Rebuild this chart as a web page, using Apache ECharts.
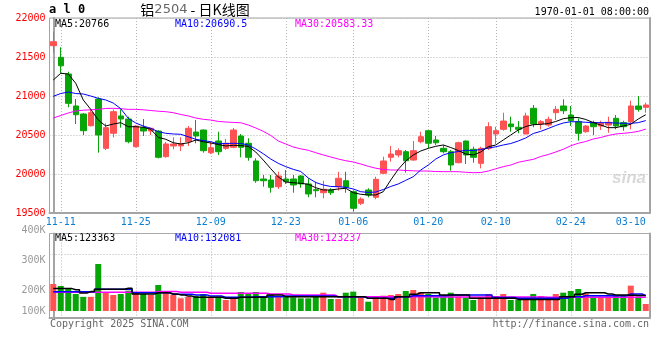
<!DOCTYPE html>
<html><head><meta charset="utf-8">
<script src="https://cdn.jsdelivr.net/npm/echarts@6/dist/echarts.min.js"></script>
<style>html,body{margin:0;padding:0;background:#fff}#c{width:660px;height:360px}</style>
</head><body><div id="c"></div>
<script>
const dates = ['11-08','11-11','11-12','11-13','11-14','11-15','11-18','11-19','11-20','11-21','11-22','11-25','11-26','11-27','11-28','11-29','12-02','12-03','12-04','12-05','12-06','12-09','12-10','12-11','12-12','12-13','12-16','12-17','12-18','12-19','12-20','12-23','12-24','12-25','12-26','12-27','12-30','12-31','01-02','01-03','01-06','01-07','01-08','01-09','01-10','01-13','01-14','01-15','01-16','01-17','01-20','01-21','01-22','01-23','01-24','01-27','02-05','02-06','02-07','02-10','02-11','02-12','02-13','02-14','02-17','02-18','02-19','02-20','02-21','02-24','02-25','02-26','02-27','02-28','03-03','03-04','03-05','03-06','03-07','03-10'];
const tickDates = ['11-11','11-25','12-09','12-23','01-06','01-20','02-10','02-24','03-10'];

const opens = [21645,21496,21282,20872,20769,20619,20961,20329,20522,20744,
20705,20350,20594,20551,20551,20222,20359,20360,20414,20538,
20564,20273,20423,20329,20342,20487,20394,20167,19936,19923,
19837,19936,19936,19974,19872,19799,19760,19795,19837,19914,
19773,19624,19795,19701,20009,20214,20244,20286,20179,20414,
20555,20436,20329,20286,20145,20423,20317,20137,20329,20513,
20573,20641,20599,20513,20842,20641,20628,20786,20872,20756,
20671,20542,20658,20615,20628,20714,20658,20671,20872,20855];
const closes = [21696,21388,20906,20760,20555,20786,20500,20594,20799,20705,
20414,20615,20551,20586,20214,20385,20385,20385,20586,20487,
20299,20337,20286,20394,20564,20342,20214,19914,19914,19829,
19974,19901,19859,19872,19744,19786,19804,19760,19945,19829,
19560,19679,19731,19932,20167,20256,20299,20170,20299,20478,
20394,20401,20286,20115,20401,20244,20214,20329,20606,20555,
20679,20606,20573,20744,20641,20671,20701,20829,20811,20683,
20522,20615,20606,20650,20663,20615,20606,20872,20829,20885];
const lows = [21555,21291,20855,20641,20500,20610,20273,20308,20470,20594,
20394,20340,20487,20500,20200,20210,20317,20295,20359,20394,
20273,20256,20244,20310,20330,20214,20170,19888,19837,19760,
19808,19872,19760,19824,19701,19701,19688,19731,19786,19760,
19517,19603,19701,19676,20000,20158,20214,20017,20170,20394,
20329,20372,20265,20042,20137,20128,20145,20073,20308,20385,
20555,20542,20522,20510,20599,20573,20606,20692,20769,20615,
20427,20529,20500,20564,20529,20573,20555,20573,20799,20786];
const highs = [21824,21624,21311,20961,20780,20829,20983,20650,20829,20829,
20735,20625,20705,20595,20560,20410,20470,20470,20615,20692,
20570,20414,20542,20450,20590,20513,20458,20201,19987,19987,
20029,20051,19987,19987,19945,19901,19914,19817,20029,20029,
19790,19701,19817,19965,20222,20359,20329,20308,20423,20542,
20560,20487,20372,20308,20414,20430,20350,20350,20663,20606,
20786,20735,20679,20786,20885,20692,20735,20872,20958,20872,
20714,20628,20683,20683,20735,20756,20683,20940,21000,20914];

const ma5 = [21205,21291,21282,21163,20949,20829,20692,20615,20641,20658,
20606,20606,20599,20573,20470,20445,20401,20385,20400,20436,
20414,20397,20378,20359,20368,20365,20353,20282,20179,20068,
19962,19897,19888,19881,19868,19824,19795,19795,19808,19817,
19760,19740,19731,19731,19773,19923,20060,20167,20244,20295,
20329,20355,20372,20340,20301,20256,20244,20282,20350,20372,
20436,20500,20564,20609,20632,20637,20647,20673,20709,20722,
20724,20699,20660,20628,20594,20594,20615,20637,20705,20760];
const ma10 = [20996,21032,21051,21032,21026,21000,20970,20949,20910,20837,
20714,20654,20615,20586,20542,20522,20513,20509,20478,20445,
20429,20414,20388,20391,20394,20391,20372,20321,20260,20192,
20137,20094,20060,20032,19949,19891,19859,19840,19837,19829,
19808,19773,19764,19769,19801,19840,19872,19919,19965,20051,
20115,20192,20244,20273,20288,20305,20301,20314,20333,20349,
20372,20391,20423,20462,20519,20547,20583,20622,20654,20670,
20670,20663,20658,20658,20658,20654,20650,20650,20658,20685];
const ma30 = [20718,20750,20782,20808,20818,20823,20829,20840,20842,20837,
20829,20829,20823,20814,20805,20799,20786,20763,20744,20718,
20701,20692,20674,20667,20661,20657,20628,20590,20547,20494,
20423,20385,20346,20323,20304,20273,20244,20218,20192,20170,
20154,20128,20099,20074,20058,20051,20051,20045,20041,20038,
20038,20032,20030,20030,20030,20022,20017,20019,20038,20067,
20094,20115,20150,20170,20188,20224,20250,20282,20317,20362,
20394,20417,20449,20468,20494,20513,20522,20531,20547,20575];

const volumes = [222300,215700,207900,189000,179500,179500,289000,194600,185700,189000,
200000,193400,189000,185700,219000,193400,185700,174600,180100,182300,
189000,180100,180100,169000,174600,195700,189000,195700,182300,185700,
177900,182300,177900,174600,174600,180100,193400,172300,172300,193400,
196800,177900,163400,177900,183400,185700,189000,199000,202300,195700,
189000,176800,180100,193400,180100,176800,169000,177900,189000,182300,
189000,169000,169000,174600,189000,182300,174600,189000,193400,199000,
205700,191200,180100,180100,180100,182300,182300,216800,180100,155700];
const volMa5 = [207000,207000,207000,203000,192000,197000,205000,205000,205000,205000,
208000,189000,189000,189000,193000,193000,189000,186000,182000,178000,
178000,178000,178000,175000,175000,178000,178000,178000,178000,186000,
186000,180000,180000,180000,180000,180000,180000,180000,180000,180000,
180000,180000,175000,175000,175000,171000,180000,180000,188000,193000,
193000,193000,186000,186000,186000,186000,175000,175000,175000,175000,
175000,175000,171000,171000,171000,171000,171000,171000,180000,180000,
188000,193000,193000,193000,189000,186000,186000,185000,184000,184000];
const volMa10 = [196700,196700,196700,196700,196700,196700,205000,205000,205000,205000,
205000,193000,193000,193000,193000,193000,188000,188000,188000,186000,
186000,182000,182000,178000,178000,178000,178000,180000,180000,180000,
180000,182000,182000,182000,182000,182000,182000,182000,180000,180000,
180000,180000,175000,175000,175000,175000,180000,180000,183000,183000,
183000,183000,183000,186000,186000,186000,186000,186000,186000,177000,
177000,177000,175000,175000,175000,175000,175000,175000,175000,180000,
180000,183000,183000,183000,183000,183000,183000,189000,189000,183000];
const volMa30 = [194700,194700,194700,194700,194700,194700,194700,194700,194700,194700,
194700,194700,194700,194700,197000,197000,197000,194700,194700,194700,
194700,191300,191300,191300,191300,191300,191300,191300,191300,189000,
189000,189000,186000,186000,186000,186000,186000,186000,180000,180000,
180000,180000,180000,180000,180000,180000,180000,180000,180000,180000,
180000,179000,179000,179000,179000,179000,179000,179000,179000,179000,
179000,179000,179000,179000,179000,179000,178500,178500,178500,178500,
178500,178500,178500,178500,178500,178500,178500,178500,178500,178500];

const priceAxis = {min: 19500, max: 22000, step: 500};
const volLabelAxis = {min: 100000, max: 400000, step: 100000};

const RED = '#ff5252', GREEN = '#08a508';
const MONO = "'DejaVu Sans Mono', monospace";
const FRAME = '#a4a4a4', GRID_LINE = '#b4b4b4';

const idx = dates.map((d, i) => i);
const tickIdx = tickDates.map(d => dates.indexOf(d));
const lineIdx = tickIdx.filter(i => i < dates.length - 1);
const xMin = -0.5, xMax = dates.length - 0.5;

const candleData = idx.map(i => [i, opens[i], closes[i], lows[i], highs[i]]);
const volData = idx.map(i => ({value: [i, volumes[i]], itemStyle: {color: closes[i] >= opens[i] ? RED : GREEN}}));
const pts = arr => idx.map(i => [i, arr[i]]);

const chart = echarts.init(document.getElementById('c'), null, {renderer: 'canvas'});

const frameX = (gi, withLabels) => ({
  gridIndex: gi, type: 'value', min: xMin, max: xMax, position: 'bottom',
  axisLine: {show: true, onZero: false, lineStyle: {color: FRAME, width: 2}},
  axisTick: {show: false, customValues: lineIdx},
  splitLine: {show: true, lineStyle: {color: GRID_LINE, type: [1, 2], width: 1}},
  axisLabel: withLabels ? {
    show: true, customValues: tickIdx, formatter: v => dates[Math.round(v)],
    color: '#0c7fd2', fontFamily: MONO, fontSize: 10, margin: 4, alignMaxLabel: 'right'
  } : {show: false}
});
const rightEdge = gi => ({
  gridIndex: gi, type: 'value', position: 'right', min: 0, max: 1,
  axisLine: {show: true, lineStyle: {color: FRAME, width: 2}},
  axisTick: {show: false}, axisLabel: {show: false}, splitLine: {show: false}
});

const option = {
  animation: false,
  backgroundColor: '#fff',
  grid: [
    {left: 49.5, width: 600, top: 18, height: 195, show: true, borderColor: FRAME, borderWidth: 1, outerBoundsMode: 'none'},
    {left: 49.5, width: 600, top: 233.5, height: 84.5, show: true, borderColor: FRAME, borderWidth: 1, outerBoundsMode: 'none'},
    {left: 49.5, width: 600, top: 233.5, height: 77.5, outerBoundsMode: 'none'},
    {left: 49.5, width: 600, top: 230.7, height: 90, outerBoundsMode: 'none'}
  ],
  xAxis: [
    frameX(0, true),
    frameX(1, false),
    {gridIndex: 2, type: 'value', min: xMin, max: xMax, show: false},
    {gridIndex: 3, type: 'value', min: 0, max: 1, show: false}
  ],
  yAxis: [
    {gridIndex: 0, type: 'value', min: priceAxis.min, max: priceAxis.max, interval: priceAxis.step,
      axisLine: {show: true, lineStyle: {color: FRAME, width: 2}}, axisTick: {show: false},
      splitLine: {show: true, lineStyle: {color: GRID_LINE, type: [1, 2]}},
      axisLabel: {color: '#ff0000', fontFamily: MONO, fontSize: 10, margin: 4, formatter: v => String(v)}},
    rightEdge(0),
    {gridIndex: 1, type: 'value', min: 0, max: 4, interval: 1,
      axisLine: {show: true, lineStyle: {color: FRAME, width: 2}}, axisTick: {show: false},
      axisLabel: {show: false},
      splitLine: {show: true, lineStyle: {color: GRID_LINE, type: [1, 2]}}},
    rightEdge(1),
    {gridIndex: 2, type: 'value', min: 132300, max: 390700, show: false},
    {gridIndex: 3, type: 'value', min: volLabelAxis.min, max: volLabelAxis.max, interval: volLabelAxis.step,
      axisLine: {show: false}, axisTick: {show: false}, splitLine: {show: false},
      axisLabel: {color: '#9a9a9a', fontFamily: MONO, fontSize: 10, margin: 4,
        formatter: v => v === volLabelAxis.min ? '{lo|' + (v / 1000) + 'K}' : (v / 1000) + 'K',
        rich: {lo: {color: '#9a9a9a', fontFamily: MONO, fontSize: 10, padding: [0, 0, 19, 0]}}}}
  ],
  series: [
    {type: 'candlestick', xAxisIndex: 0, yAxisIndex: 0, data: candleData,
      dimensions: ['i', 'open', 'close', 'lowest', 'highest'],
      encode: {x: 'i', y: ['open', 'close', 'lowest', 'highest']},
      barWidth: 6,
      itemStyle: {color: RED, color0: GREEN, borderColor: RED, borderColor0: GREEN, borderWidth: 1}},
    {type: 'line', xAxisIndex: 0, yAxisIndex: 0, data: pts(ma30), symbol: 'none', z: 3, lineStyle: {color: '#ff00ff', width: 1}},
    {type: 'line', xAxisIndex: 0, yAxisIndex: 0, data: pts(ma10), symbol: 'none', z: 3, lineStyle: {color: '#0000ff', width: 1}},
    {type: 'line', xAxisIndex: 0, yAxisIndex: 0, data: pts(ma5), symbol: 'none', z: 3, lineStyle: {color: '#000000', width: 1}},
    {type: 'bar', xAxisIndex: 2, yAxisIndex: 4, data: volData, barWidth: 6, clip: true},
    {type: 'line', xAxisIndex: 2, yAxisIndex: 4, data: pts(volMa30), step: 'middle', symbol: 'none', z: 3, lineStyle: {color: '#ff00ff', width: 1.5}},
    {type: 'line', xAxisIndex: 2, yAxisIndex: 4, data: pts(volMa10), step: 'middle', symbol: 'none', z: 3, lineStyle: {color: '#0000ff', width: 1.5}},
    {type: 'line', xAxisIndex: 2, yAxisIndex: 4, data: pts(volMa5), step: 'middle', symbol: 'none', z: 3, lineStyle: {color: '#000000', width: 1.5}}
  ],
  graphic: [
    {type: 'text', x: 49, y: 10, style: {text: 'a l 0', font: 'bold 12px ' + MONO, fill: '#000', verticalAlign: 'middle'}},
    {type: 'text', x: 195, y: 10, style: {text: '{a|铝}{b|2504}{a| - 日K线图}', align: 'center', verticalAlign: 'middle',
      rich: {a: {font: "14px 'Noto Sans CJK SC'", fill: '#000'}, b: {font: "13px 'DejaVu Sans'", fill: '#666'}}}},
    {type: 'text', x: 649, y: 12, style: {text: '1970-01-01 08:00:00', font: '10px ' + MONO, fill: '#000', align: 'right', verticalAlign: 'middle'}},
    {type: 'text', x: 55, y: 24, style: {text: 'MA5:20766', font: '10px ' + MONO, fill: '#000', verticalAlign: 'middle'}},
    {type: 'text', x: 175, y: 24, style: {text: 'MA10:20690.5', font: '10px ' + MONO, fill: '#0000ff', verticalAlign: 'middle'}},
    {type: 'text', x: 295, y: 24, style: {text: 'MA30:20583.33', font: '10px ' + MONO, fill: '#ff00ff', verticalAlign: 'middle'}},
    {type: 'text', x: 55, y: 238.5, style: {text: 'MA5:123363', font: '10px ' + MONO, fill: '#000', verticalAlign: 'middle'}},
    {type: 'text', x: 175, y: 238.5, style: {text: 'MA10:132081', font: '10px ' + MONO, fill: '#0000ff', verticalAlign: 'middle'}},
    {type: 'text', x: 295, y: 238.5, style: {text: 'MA30:123237', font: '10px ' + MONO, fill: '#ff00ff', verticalAlign: 'middle'}},
    {type: 'text', x: 50, y: 324, style: {text: 'Copyright 2025 SINA.COM', font: '10px ' + MONO, fill: '#666', verticalAlign: 'middle'}},
    {type: 'text', x: 649, y: 324, style: {text: 'http://finance.sina.com.cn', font: '10px ' + MONO, fill: '#666', verticalAlign: 'middle', align: 'right'}},
    {type: 'text', x: 646, y: 178, style: {text: 'sina', font: 'italic bold 17px Arial, sans-serif', fill: 'rgba(170,170,170,0.45)', align: 'right', verticalAlign: 'middle'}}
  ]
};
chart.setOption(option);
</script>
</body></html>
